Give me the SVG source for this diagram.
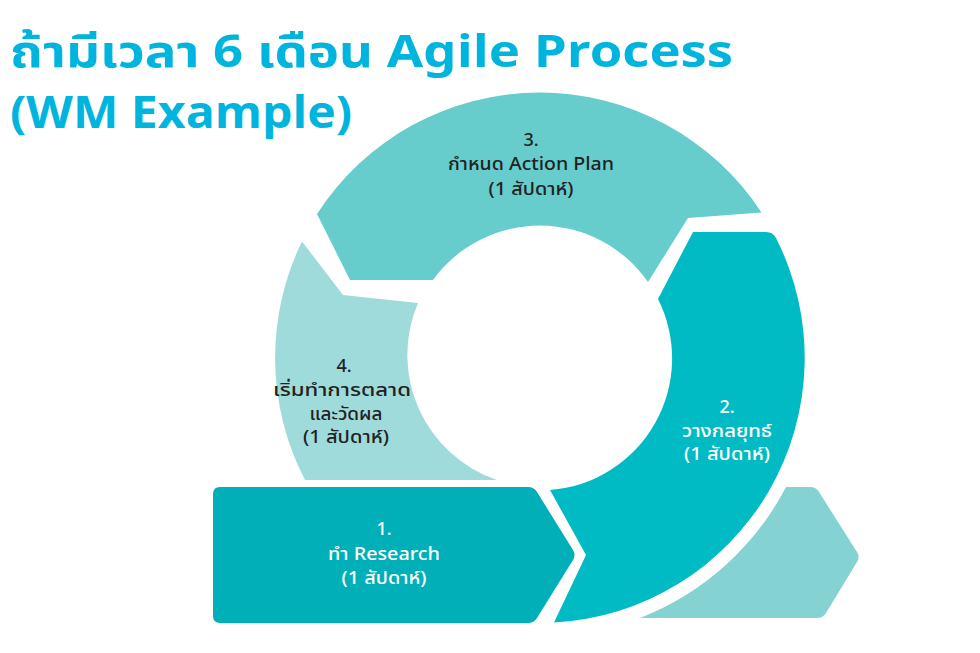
<svg xmlns="http://www.w3.org/2000/svg" width="980" height="653" viewBox="0 0 980 653">
<style>
  .title { font-family: 'Noto Sans Thai', 'Noto Sans', 'DejaVu Sans', sans-serif; font-weight: 700; font-size: 45px; fill: #00B5DD; }
  .lbl { font-family: 'Noto Sans Thai', 'Noto Sans', 'DejaVu Sans', sans-serif; font-size: 18px; font-weight: 500; text-anchor: middle; }
  .dark { fill: #222222; }
  .light { fill: #FFFFFF; }
</style>
<rect x="0" y="0" width="980" height="653" fill="#FFFFFF"/>
<g id="title">
  <text class="title" x="10" y="67" textLength="723" lengthAdjust="spacingAndGlyphs">ถ้ามีเวลา 6 เดือน Agile Process</text>
  <text class="title" x="10" y="128" textLength="342" lengthAdjust="spacingAndGlyphs">(WM Example)</text>
</g>
<g id="connectors"></g>
<g id="step3">
  <path d="M 761.5 212.5 A 265 265 0 0 0 317 214 L 350 280 L 433 280 A 132 132 0 0 1 648 282 L 688 218 Z" fill="#66CCCC"/>
  <text class="lbl dark" x="531" y="146">3.</text>
  <text class="lbl dark" x="531" y="170" textLength="166" lengthAdjust="spacingAndGlyphs">กำหนด Action Plan</text>
  <text class="lbl dark" x="531" y="195" textLength="85" lengthAdjust="spacingAndGlyphs">(1 สัปดาห์)</text>
</g>
<g id="step4">
  <path d="M 302 241.4 L 343 295 L 418 303 A 132 132 0 0 0 497 480 L 305 480 A 265 265 0 0 1 302 241.4 Z" fill="#A0DBDC"/>
  <text class="lbl dark" x="344" y="372">4.</text>
  <text class="lbl dark" x="342" y="396" textLength="138" lengthAdjust="spacingAndGlyphs">เริ่มทำการตลาด</text>
  <text class="lbl dark" x="346" y="420" textLength="73" lengthAdjust="spacingAndGlyphs">และวัดผล</text>
  <text class="lbl dark" x="346" y="443" textLength="86" lengthAdjust="spacingAndGlyphs">(1 สัปดาห์)</text>
</g>
<g id="step2">
  <path d="M 693 232 L 766 232 Q 773 232 776 238 A 265 265 0 0 1 554 622.6 L 586 555 L 550 490 A 132 132 0 0 0 658 299 Z" fill="#00BBC3"/>
  <text class="lbl light" x="727" y="413">2.</text>
  <text class="lbl light" x="727" y="437" textLength="90" lengthAdjust="spacingAndGlyphs">วางกลยุทธ์</text>
  <text class="lbl light" x="727" y="460" textLength="86" lengthAdjust="spacingAndGlyphs">(1 สัปดาห์)</text>
</g>
<g id="step5">
  <path d="M 786 487 L 810 487 Q 816 487 819 492 L 857 552 Q 860 557 857 562 L 826 613 Q 823 618 817 618 L 640 618 A 278 278 0 0 0 786 487 Z" fill="#84D2D2"/>
</g>
<g id="step1">
  <path d="M 220 487 L 528 487 Q 534 487 537 492 L 573 550 Q 576 555 573 560 L 537 618 Q 534 623 528 623 L 220 623 Q 213 623 213 616 L 213 494 Q 213 487 220 487 Z" fill="#00AFB8"/>
  <text class="lbl light" x="384" y="535">1.</text>
  <text class="lbl light" x="384" y="560" textLength="112" lengthAdjust="spacingAndGlyphs">ทำ Research</text>
  <text class="lbl light" x="384" y="584" textLength="85" lengthAdjust="spacingAndGlyphs">(1 สัปดาห์)</text>
</g>
</svg>
